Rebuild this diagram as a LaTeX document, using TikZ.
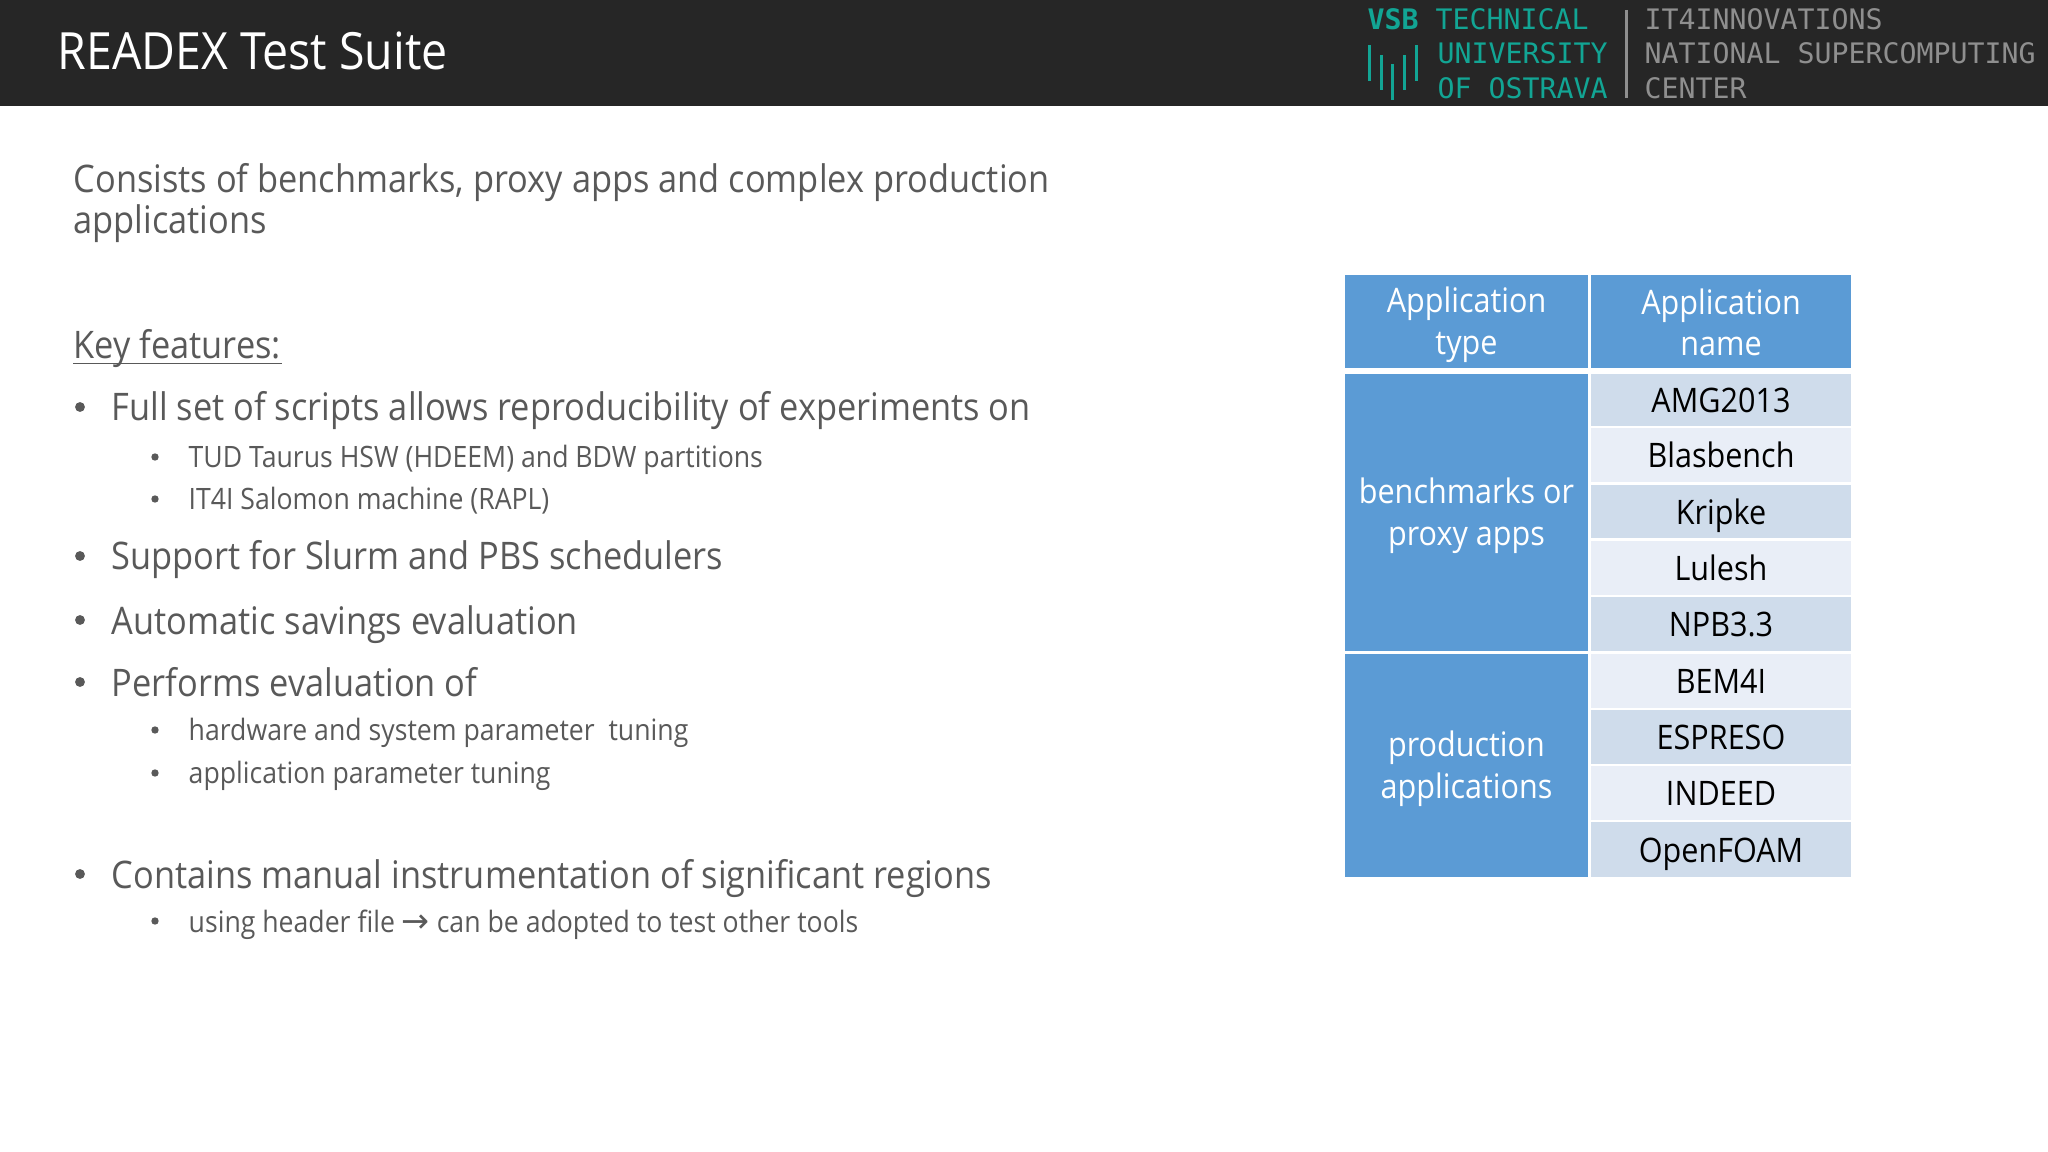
\documentclass[tikz,border=0pt]{standalone}
\usepackage{fontspec}
\setmainfont[FakeStretch=0.905]{Open Sans}
\newfontfamily\monofnt{DejaVu Sans Mono}
\newfontfamily\arrowfnt{DejaVu Sans}
\definecolor{barcol}{HTML}{262626}
\definecolor{txtcol}{HTML}{595959}
\definecolor{tealcol}{HTML}{12A594}
\definecolor{graycol}{HTML}{8F8F8F}
\definecolor{bluecol}{HTML}{5B9BD5}
\definecolor{rowdark}{HTML}{CFDCEB}
\definecolor{rowlight}{HTML}{E9EEF7}
\tikzset{
  txtbase/.style={anchor=base west, inner sep=0pt, text=txtcol},
  lvlone/.style={txtbase, font=\fontsize{10.8}{11.7}\selectfont, align=left},
  lvltwo/.style={txtbase, font=\fontsize{8.37}{10}\selectfont},
  dotone/.style={circle, fill=txtcol, inner sep=0pt, minimum size=2.8pt},
  dottwo/.style={circle, fill=txtcol, inner sep=0pt, minimum size=2.1pt},
  monotxt/.style={anchor=base west, inner sep=0pt, font=\monofnt\fontsize{8.03}{10}\selectfont},
  cell/.style={inner sep=0pt, align=center, font=\fontsize{9.6}{11.7}\selectfont},
  bluecell/.style={cell, fill=bluecol, text=white},
  darkcell/.style={cell, fill=rowdark, text=black, text height=8pt, text depth=0.8pt},
  lightcell/.style={cell, fill=rowlight, text=black, text height=8pt, text depth=0.8pt},
  logobar/.style={tealcol, line width=0.85pt}
}
\newcommand{\cellat}[7]{\node[#1, minimum width=#4*0.01cm, minimum height=#5*0.01cm] (#2) at (#6, #7) {#3};}
\newcommand{\cellstrut}{\rule[-1.3pt]{0pt}{10.4pt}}
\begin{document}
\begin{tikzpicture}[x=0.01cm, y=-0.01cm]
\useasboundingbox (0, 0) rectangle (2048, 1152);
% top bar
\fill[barcol] (0, 0) rectangle (2048, 106);
\node[anchor=base west, inner sep=0pt, text=white, font=\fontsize{14.6}{16}\selectfont] (title) at (57, 70) {READEX Test Suite};
\node[monotxt, text=tealcol] (vsbone) at (1367, 30) {{\bfseries VSB} TECHNICAL};
\node[monotxt, text=tealcol] (vsbtwo) at (1437, 64) {UNIVERSITY};
\node[monotxt, text=tealcol] (vsbthree) at (1437, 99) {OF OSTRAVA};
\node[monotxt, text=graycol] (itone) at (1644, 30) {IT4INNOVATIONS};
\node[monotxt, text=graycol] (ittwo) at (1644, 64) {NATIONAL SUPERCOMPUTING};
\node[monotxt, text=graycol] (itthree) at (1644, 99) {CENTER};
\draw[graycol, line width=0.85pt] (1626, 10) -- (1626, 98);
\draw[logobar] (1369, 45) -- (1369, 81);
\draw[logobar] (1381, 55) -- (1381, 90);
\draw[logobar] (1392, 64) -- (1392, 100);
\draw[logobar] (1404, 55) -- (1404, 90);
\draw[logobar] (1416, 45) -- (1416, 81);
% left text
\node[lvlone] (intro) at (73, 233.5) {Consists of benchmarks, proxy apps and complex production\\applications};
\node[lvlone] (keyfeat) at (73, 359) {Key features:};
\draw[txtcol, line width=0.4pt] ([yshift=-1.2pt]keyfeat.base west) -- ([yshift=-1.2pt]keyfeat.base east);
\node[dotone] (dota) at (80, 407) {};
\node[lvlone] (feata) at (111, 421) {Full set of scripts allows reproducibility of experiments on};
\node[dottwo] (dotaa) at (155, 457) {};
\node[lvltwo] (feataa) at (188, 468) {TUD Taurus HSW (HDEEM) and BDW partitions};
\node[dottwo] (dotab) at (155, 499) {};
\node[lvltwo] (featab) at (188, 510) {IT4I Salomon machine (RAPL)};
\node[dotone] (dotb) at (80, 556) {};
\node[lvlone] (featb) at (111, 570) {Support for Slurm and PBS schedulers};
\node[dotone] (dotc) at (80, 620) {};
\node[lvlone] (featc) at (111, 634) {Automatic savings evaluation};
\node[dotone] (dotd) at (80, 682) {};
\node[lvlone] (featd) at (111, 696) {Performs evaluation of};
\node[dottwo] (dotda) at (155, 730) {};
\node[lvltwo] (featda) at (188, 740) {hardware and system parameter~~tuning};
\node[dottwo] (dotdb) at (155, 773) {};
\node[lvltwo] (featdb) at (188, 783) {application parameter tuning};
\node[dotone] (dote) at (80, 874) {};
\node[lvlone] (feate) at (111, 888) {Contains manual instrumentation of significant regions};
\node[dottwo] (dotea) at (155, 921) {};
\node[lvltwo] (featea) at (188, 932) {using header file {\arrowfnt\fontsize{9.5}{10}\selectfont→} can be adopted to test other tools};
% table
\cellat{bluecell}{hdtype}{\cellstrut Application\\type\cellstrut}{243}{93}{1466.5}{321.5}
\cellat{bluecell}{hdname}{\cellstrut Application\\name\cellstrut}{260}{93}{1721}{321.5}
\cellat{bluecell}{typeone}{\cellstrut benchmarks or\\proxy apps\cellstrut}{243}{277}{1466.5}{512.5}
\cellat{bluecell}{typetwo}{\cellstrut production\\applications\cellstrut}{243}{223}{1466.5}{765.5}
\cellat{darkcell}{rowa}{AMG2013}{260}{52}{1721}{400}
\cellat{lightcell}{rowb}{Blasbench}{260}{54}{1721}{455}
\cellat{darkcell}{rowc}{Kripke}{260}{53}{1721}{511.5}
\cellat{lightcell}{rowd}{Lulesh}{260}{54}{1721}{568}
\cellat{darkcell}{rowe}{NPB3.3}{260}{54}{1721}{624}
\cellat{lightcell}{rowf}{BEM4I}{260}{54}{1721}{681}
\cellat{darkcell}{rowg}{ESPRESO}{260}{54}{1721}{737}
\cellat{lightcell}{rowh}{INDEED}{260}{54}{1721}{793}
\cellat{darkcell}{rowi}{OpenFOAM}{260}{55}{1721}{849.5}
\end{tikzpicture}
\end{document}
